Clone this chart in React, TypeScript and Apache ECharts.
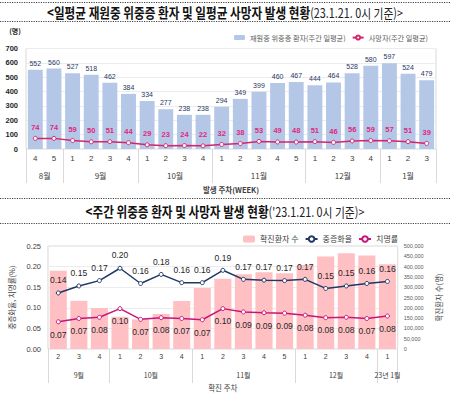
import React, { useEffect, useRef } from 'react';
import * as echarts from 'echarts';

// ---------- Top chart data ----------
const topWeeks = ['4', '5', '1', '2', '3', '4', '1', '2', '3', '4', '1', '2', '3', '4', '5', '1', '2', '3', '4', '1', '2', '3'];
const topMonths = ['8월', '9월', '10월', '11월', '12월', '1월'];
const topMonthCounts = [2, 4, 4, 5, 4, 3];
const inpatients = [552, 560, 527, 518, 462, 384, 334, 277, 238, 238, 294, 349, 399, 460, 467, 444, 464, 528, 580, 597, 524, 479];
const deaths = [74, 74, 59, 50, 51, 44, 29, 23, 24, 22, 32, 38, 53, 49, 48, 51, 46, 56, 59, 57, 51, 39];

// ---------- Bottom chart data ----------
const botWeeks = ['2', '3', '4', '1', '2', '3', '4', '1', '2', '3', '4', '5', '1', '2', '3', '4', '1'];
const botMonths = ['9월', '10월', '11월', '12월', '23년 1월'];
const botMonthCounts = [3, 4, 5, 4, 1];
const confirmed = [380000, 234000, 199000, 157000, 144000, 170000, 233000, 296000, 341000, 363000, 372000, 368000, 408000, 449000, 465000, 454000, 412000];
const severeRate = [0.136, 0.153, 0.166, 0.196, 0.159, 0.181, 0.161, 0.161, 0.191, 0.169, 0.167, 0.166, 0.169, 0.147, 0.153, 0.159, 0.164];
const fatalityRate = [0.066, 0.074, 0.077, 0.098, 0.072, 0.076, 0.074, 0.071, 0.098, 0.09, 0.088, 0.087, 0.082, 0.076, 0.077, 0.074, 0.08];

const FONT = "'Liberation Sans', 'Noto Sans CJK KR', sans-serif";
const KFONT = "'Noto Sans CJK KR', sans-serif";

function groups(names: string[], counts: number[]) {
  const bounds: number[] = [0];
  const centers: number[] = [];
  const map: Record<string, string> = {};
  let acc = 0;
  names.forEach((n, i) => {
    const c = acc + counts[i] / 2;
    centers.push(c);
    map[String(c)] = n;
    acc += counts[i];
    bounds.push(acc);
  });
  return { bounds, centers, map, total: acc };
}

const r2 = (v: number) => (Math.round(v * 100) / 100).toFixed(2);

export default function App() {
  const ref = useRef<HTMLDivElement>(null);
  useEffect(() => {
    if (!ref.current) return;
    const chart = echarts.init(ref.current, null, { renderer: 'svg' });
    const tg = groups(topMonths, topMonthCounts);
    const bg = groups(botMonths, botMonthCounts);
    const dotted = (y: number) => ({
      type: 'line',
      shape: { x1: 0, y1: y, x2: 450, y2: y },
      style: { stroke: '#444', lineWidth: 1, lineDash: [1.2, 1.2] },
    });
    const option: any = {
      animation: false,
      backgroundColor: '#fff',
      grid: [
        { left: 26, right: 14, top: 48.5, bottom: 247, show: true, borderColor: '#D9D9D9', borderWidth: 1 },
        { left: 38, right: 44, top: 246, bottom: 47, show: true, borderColor: '#D9D9D9', borderWidth: 1 },
      ],
      legend: [
        {
          data: ['재원중 위중증 환자(주간 일평균)', '사망자(주간 일평균)'],
          left: 229, top: 29, width: 221, itemWidth: 11, itemHeight: 5, itemGap: 6,
          textStyle: { fontSize: 7.2, color: '#595959', fontFamily: KFONT },
        },
        {
          data: ['확진환자 수', '중증화율', '치명률'],
          left: 238, top: 230, width: 170, itemWidth: 12, itemHeight: 7, itemGap: 6,
          textStyle: { fontSize: 8, color: '#404040', fontFamily: KFONT },
        },
      ],
      xAxis: [
        {
          gridIndex: 0, type: 'category', data: topWeeks, position: 'bottom',
          axisLine: { show: false }, axisTick: { show: false },
          axisLabel: { margin: 5, fontSize: 8, color: '#404040', fontFamily: FONT },
        },
        {
          gridIndex: 0, type: 'value', min: 0, max: tg.total, position: 'bottom',
          axisLine: { show: false }, splitLine: { show: false },
          axisTick: { show: true, customValues: tg.bounds, length: 34, lineStyle: { color: '#D9D9D9' } },
          axisLabel: { customValues: tg.centers, formatter: (v: number) => tg.map[String(v)] || '', margin: 22, fontSize: 8, color: '#404040', fontFamily: KFONT },
          name: '발생 주차(WEEK)', nameLocation: 'middle', nameGap: 37,
          nameTextStyle: { fontSize: 7.5, color: '#404040', fontFamily: KFONT, fontWeight: 'bold' },
        },
        {
          gridIndex: 1, type: 'category', data: botWeeks, position: 'bottom',
          axisLine: { show: false }, axisTick: { show: false },
          axisLabel: { margin: 4, fontSize: 7, color: '#404040', fontFamily: FONT },
        },
        {
          gridIndex: 1, type: 'value', min: 0, max: bg.total, position: 'bottom',
          axisLine: { show: false }, splitLine: { show: false },
          axisTick: { show: true, customValues: bg.bounds, length: 34, lineStyle: { color: '#D9D9D9' } },
          axisLabel: { customValues: bg.centers, formatter: (v: number) => bg.map[String(v)] || '', margin: 22, fontSize: 7, color: '#404040', fontFamily: KFONT },
          name: '확진 주차', nameLocation: 'middle', nameGap: 35,
          nameTextStyle: { fontSize: 7.5, color: '#404040', fontFamily: KFONT },
        },
      ],
      yAxis: [
        {
          gridIndex: 0, type: 'value', min: 0, max: 700, interval: 100,
          axisLine: { show: false }, axisTick: { show: false },
          splitLine: { lineStyle: { color: '#ECECEC' } },
          axisLabel: { margin: 8, fontSize: 7.5, color: '#262626', fontFamily: FONT, fontWeight: 'bold' },
        },
        {
          gridIndex: 1, type: 'value', min: 0, max: 0.25, interval: 0.05,
          axisLine: { show: false }, axisTick: { show: false },
          splitLine: { lineStyle: { color: '#ECECEC' } },
          axisLabel: { margin: 7, fontSize: 7.5, color: '#404040', fontFamily: FONT, formatter: (v: number) => v.toFixed(2) },
          name: '중증화율, 치명률(%)', nameLocation: 'middle', nameGap: 22,
          nameTextStyle: { fontSize: 7.5, color: '#404040', fontFamily: KFONT },
        },
        {
          gridIndex: 1, type: 'value', min: 0, max: 500000, interval: 50000, position: 'right',
          axisLine: { show: false }, axisTick: { show: false }, splitLine: { show: false },
          axisLabel: { margin: 6, fontSize: 5.5, color: '#595959', fontFamily: FONT, formatter: (v: number) => v.toLocaleString('en-US') },
          name: '확진환자 수(명)', nameLocation: 'middle', nameGap: 31,
          nameTextStyle: { fontSize: 7.5, color: '#404040', fontFamily: KFONT },
        },
      ],
      series: [
        {
          name: '재원중 위중증 환자(주간 일평균)', type: 'bar', xAxisIndex: 0, yAxisIndex: 0,
          data: inpatients, barCategoryGap: '20%',
          itemStyle: { color: '#B4C7E7' },
          label: { show: true, position: 'top', distance: 3, fontSize: 7, color: '#1F3864', fontFamily: FONT },
        },
        {
          name: '사망자(주간 일평균)', type: 'line', xAxisIndex: 0, yAxisIndex: 0,
          data: deaths, symbol: 'circle', symbolSize: 4,
          lineStyle: { color: '#D6246E', width: 1.5 },
          itemStyle: { color: '#fff', borderColor: '#D6246E', borderWidth: 1 },
          label: { show: true, position: 'top', distance: 5, fontSize: 7.5, color: '#E0287D', fontWeight: 'bold', fontFamily: FONT },
        },
        {
          name: '확진환자 수', type: 'bar', xAxisIndex: 2, yAxisIndex: 2,
          data: confirmed, barCategoryGap: '17%',
          itemStyle: { color: '#FFC0C4' },
        },
        {
          name: '중증화율', type: 'line', xAxisIndex: 2, yAxisIndex: 1,
          data: severeRate, symbol: 'circle', symbolSize: 4,
          lineStyle: { color: '#1F3864', width: 1.5 },
          itemStyle: { color: '#fff', borderColor: '#1F3864', borderWidth: 1 },
          label: { show: true, position: 'top', distance: 6, fontSize: 8.5, color: '#262626', fontFamily: FONT, formatter: (p: any) => r2(p.value) },
        },
        {
          name: '치명률', type: 'line', xAxisIndex: 2, yAxisIndex: 1,
          data: fatalityRate, symbol: 'circle', symbolSize: 4,
          lineStyle: { color: '#C8157A', width: 1.5 },
          itemStyle: { color: '#fff', borderColor: '#C8157A', borderWidth: 1 },
          label: { show: true, position: 'bottom', distance: 6, fontSize: 8.5, color: '#262626', fontFamily: FONT, formatter: (p: any) => r2(p.value) },
        },
      ],
      graphic: [
        dotted(2.5), dotted(21.5), dotted(198.5), dotted(223.5),
        {
          type: 'text', x: 225, y: 12.5, scaleX: 0.83,
          style: {
            text: '{a|<일평균 재원중 위중증 환자 및 일평균 사망자 발생 현황}{b|(23.1.21. 0시 기준)>}',
            align: 'center', verticalAlign: 'middle',
            rich: {
              a: { fontSize: 14, fontWeight: 'bold', fontFamily: KFONT, fill: '#111' },
              b: { fontSize: 13, fontFamily: KFONT, fill: '#222' },
            },
          },
        },
        {
          type: 'text', x: 225, y: 211.5, scaleX: 0.83,
          style: {
            text: "{a|<주간 위중증 환자 및 사망자 발생 현황}{b|('23.1.21. 0시 기준)>}",
            align: 'center', verticalAlign: 'middle',
            rich: {
              a: { fontSize: 14, fontWeight: 'bold', fontFamily: KFONT, fill: '#111' },
              b: { fontSize: 13, fontFamily: KFONT, fill: '#222' },
            },
          },
        },
        {
          type: 'text', x: 15, y: 31,
          style: { text: '(명)', align: 'center', verticalAlign: 'middle', fontSize: 7, fontWeight: 'bold', fontFamily: KFONT, fill: '#262626' },
        },
      ],
    };
    chart.setOption(option);
    return () => chart.dispose();
  }, []);
  return <div ref={ref} style={{ position: 'absolute', left: 0, top: 0, width: 450, height: 396 }} />;
}
